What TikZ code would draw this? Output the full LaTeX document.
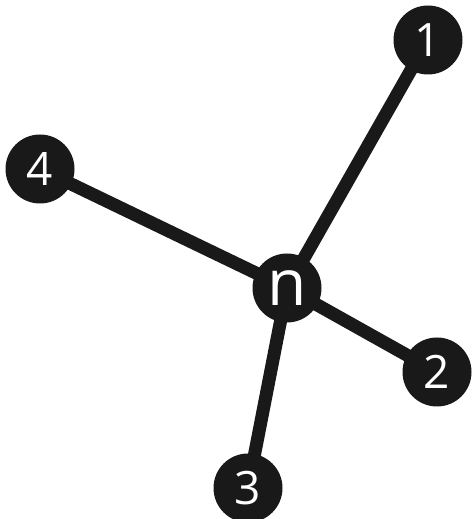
\documentclass[tikz,border=0pt]{standalone}
\usepackage{fontspec}
\setmainfont{Open Sans}
\usetikzlibrary{backgrounds}
\begin{document}
\begin{tikzpicture}[x=1pt,y=1pt,
  vert/.style={circle,fill=black!90,minimum size=69pt,inner sep=0pt,text=white,font=\fontsize{46}{46}\selectfont},
  edge/.style={line width=13pt,black!90}]
\useasboundingbox (0,0) rectangle (473,519);
\node[vert] (n) at (287,231) {\fontsize{64}{64}\selectfont n};
\node[vert] (v1) at (428,479) {1};
\node[vert] (v2) at (437,147) {2};
\node[vert] (v3) at (248,31) {3};
\node[vert] (v4) at (40,350) {4};
\begin{scope}[on background layer]
\draw[edge] (n.center) -- (v1.center);
\draw[edge] (n.center) -- (v2.center);
\draw[edge] (n.center) -- (v3.center);
\draw[edge] (n.center) -- (v4.center);
\end{scope}
\end{tikzpicture}
\end{document}
